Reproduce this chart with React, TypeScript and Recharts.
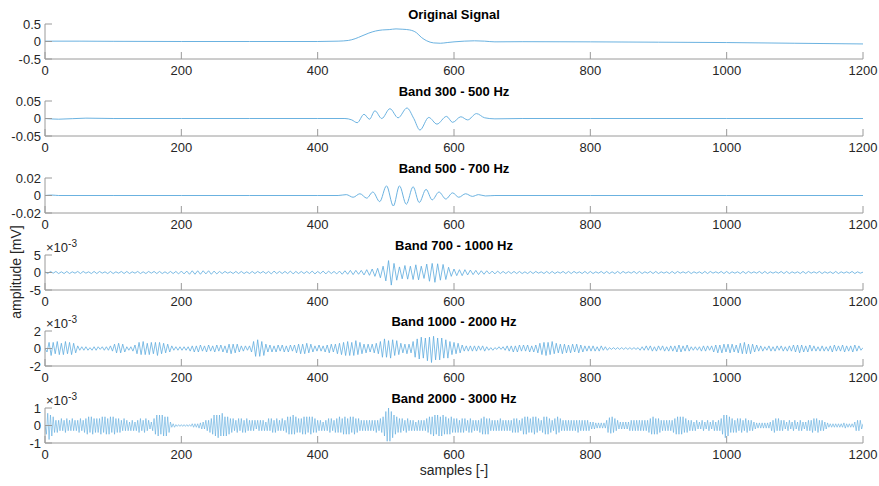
import { LineChart, Line, XAxis, YAxis } from 'recharts'

// shared x axis (samples)
const xTicks = [0, 200, 400, 600, 800, 1000, 1200]

// Original Signal [mV]
const origX = [0, 50, 100, 200, 300, 400, 430, 445, 455, 465, 475, 485, 495, 505, 515, 525, 535, 545, 552, 560, 570, 580, 590, 600, 615, 630, 645, 660, 700, 800, 900, 1000, 1100, 1200]
const origY = [0.01, 0.01, 0.005, 0, 0, 0, 0.01, 0.03, 0.08, 0.16, 0.24, 0.3, 0.33, 0.34, 0.36, 0.35, 0.33, 0.25, 0.12, 0.02, -0.04, -0.05, -0.03, -0.01, 0.01, 0.02, 0.01, -0.01, -0.005, -0.01, -0.02, -0.03, -0.05, -0.07]

// Band 300 - 500 Hz [mV]
const band300X = [0, 20, 60, 100, 200, 300, 400, 440, 450, 458, 468, 476, 484, 494, 506, 518, 531, 541, 550, 563, 575, 589, 598, 610, 620, 633, 645, 660, 700, 800, 1000, 1200]
const band300Y = [0, -0.002, 0.001, 0, 0, 0, 0, 0, -0.004, -0.012, 0.012, -0.002, 0.022, 0, 0.028, 0.002, 0.03, 0, -0.033, 0.003, -0.016, 0.006, -0.011, 0.005, -0.004, 0.014, 0.002, -0.001, 0, 0, 0, 0]

// Band 500 - 700 Hz [mV]
const band500X = [0, 10, 20, 100, 200, 300, 400, 430, 442, 452, 462, 472, 481, 491, 501, 511, 520, 530, 540, 549, 559, 568, 578, 588, 598, 607, 617, 627, 636, 646, 660, 800, 1000, 1200]
const band500Y = [0, 0.0005, 0, 0, 0, 0, 0, 0, 0.001, -0.002, 0.002, -0.003, 0.004, -0.007, 0.011, -0.012, 0.011, -0.01, 0.01, -0.008, 0.007, -0.005, 0.004, -0.004, 0.003, -0.002, 0.002, -0.001, 0.001, -0.0005, 0, 0, 0, 0]

// Band 700 - 1000 Hz [x10^-3 mV], one value every 4 samples
const band700Step = 4
const band700 = [
  0.2, -0.3, 0.3, -0.2, 0.3, -0.3, 0.2, -0.3, 0.3, -0.3, 0.2, -0.2, 0.3, -0.3, 0.3, -0.2, 0.2, -0.3, 0.3, -0.3,
  0.3, -0.2, 0.2, -0.3, 0.3, -0.3, 0.2, -0.2, 0.3, -0.3, 0.3, -0.3, 0.2, -0.2, 0.3, -0.3, 0.2, -0.3, 0.3, -0.2,
  0.3, -0.3, 0.3, -0.3, 0.2, -0.3, 0.3, -0.3, 0.3, -0.4, 0.4, -0.4, 0.4, -0.5, 0.5, -0.5, 0.5, -0.5, 0.5, -0.4,
  0.5, -0.5, 0.4, -0.4, 0.3, -0.3, 0.3, -0.2, 0.2, -0.3, 0.3, -0.3, 0.3, -0.3, 0.2, -0.3, 0.3, -0.3, 0.3, -0.2,
  0.3, -0.3, 0.3, -0.4, 0.4, -0.3, 0.3, -0.3, 0.3, -0.3, 0.4, -0.4, 0.3, -0.3, 0.3, -0.3, 0.3, -0.3, 0.4, -0.4,
  0.3, -0.3, 0.4, -0.4, 0.4, -0.3, 0.3, -0.4, 0.4, -0.5, 0.5, -0.5, 0.6, -0.6, 0.6, -0.5, 0.6, -0.7, 0.8, -0.8,
  1.0, -1.1, 1.2, -1.5, 1.8, -2.4, 3.4, -3.6, 2.6, -2.2, 1.6, -1.8, 2.0, -1.9, 1.8, -2.0, 2.2, -2.1, 1.8, -1.7,
  2.4, -2.5, 2.6, -2.8, 2.5, -2.2, 2.3, -2.0, 1.5, -1.1, 1.0, -0.9, 0.8, -0.9, 0.8, -0.7, 0.7, -0.6, 0.6, -0.6,
  0.5, -0.5, 0.5, -0.4, 0.4, -0.4, 0.4, -0.3, 0.3, -0.3, 0.3, -0.3, 0.3, -0.3, 0.3, -0.3, 0.2, -0.3, 0.3, -0.3,
  0.3, -0.2, 0.2, -0.3, 0.3, -0.3, 0.3, -0.3, 0.2, -0.2, 0.3, -0.3, 0.3, -0.3, 0.3, -0.2, 0.2, -0.3, 0.3, -0.3,
  0.3, -0.3, 0.2, -0.2, 0.3, -0.3, 0.3, -0.3, 0.2, -0.3, 0.3, -0.3, 0.3, -0.2, 0.2, -0.2, 0.3, -0.3, 0.3, -0.3,
  0.2, -0.2, 0.3, -0.3, 0.3, -0.3, 0.2, -0.2, 0.2, -0.3, 0.3, -0.3, 0.3, -0.2, 0.2, -0.2, 0.3, -0.3, 0.2, -0.2,
  0.2, -0.3, 0.3, -0.3, 0.3, -0.2, 0.2, -0.2, 0.3, -0.3, 0.3, -0.3, 0.2, -0.2, 0.2, -0.3, 0.3, -0.3, 0.3, -0.2,
  0.2, -0.2, 0.3, -0.3, 0.3, -0.3, 0.2, -0.2, 0.2, -0.2, 0.3, -0.3, 0.3, -0.3, 0.2, -0.2, 0.2, -0.3, 0.3, -0.3,
  0.3, -0.2, 0.2, -0.2, 0.3, -0.3, 0.2, -0.2, 0.2, -0.3, 0.3, -0.3, 0.2, -0.2, 0.2, -0.2, 0.3, -0.3, 0.2, -0.2,
  0.1,
]

// Band 1000 - 2000 Hz [x10^-3 mV], one value every 3 samples
const band1000Step = 3
const band1000 = [
  0, -0.4, 0.7, -0.8, 0.7, -0.6, 0.8, -0.7, 0.6, -0.7, 0.8, -0.6, 0.7, -0.7, 0.6, -0.5, 0.3, -0.2, 0.2, -0.2,
  0.2, -0.2, 0.1, -0.2, 0.2, -0.2, 0.2, -0.1, 0.2, -0.2, 0.2, -0.2, 0.3, -0.3, 0.5, -0.5, 0.6, -0.5, 0.5, -0.4,
  0.2, -0.2, 0.2, -0.3, 0.4, -0.6, 0.7, -0.7, 0.8, -0.7, 0.6, -0.7, 0.7, -0.6, 0.7, -0.8, 0.7, -0.6, 0.6, -0.5,
  0.5, -0.4, 0.3, -0.2, 0.2, -0.2, 0.2, -0.2, 0.2, -0.2, 0.2, -0.3, 0.3, -0.4, 0.3, -0.4, 0.4, -0.3, 0.3, -0.4,
  0.4, -0.3, 0.3, -0.4, 0.4, -0.3, 0.4, -0.4, 0.3, -0.5, 0.5, -0.6, 0.5, -0.5, 0.5, -0.4, 0.3, -0.3, 0.3, -0.2,
  0.3, -0.4, 0.8, -0.9, 1.0, -0.9, 0.8, -0.8, 0.5, -0.4, 0.4, -0.4, 0.3, -0.4, 0.4, -0.3, 0.4, -0.4, 0.3, -0.4,
  0.4, -0.3, 0.4, -0.5, 0.5, -0.6, 0.5, -0.6, 0.6, -0.5, 0.5, -0.4, 0.3, -0.3, 0.4, -0.3, 0.3, -0.4, 0.4, -0.5,
  0.5, -0.4, 0.5, -0.6, 0.6, -0.7, 0.7, -0.8, 0.8, -0.8, 0.7, -0.8, 0.9, -0.7, 0.7, -0.6, 0.5, -0.5, 0.5, -0.4,
  0.5, -0.5, 0.6, -0.6, 0.8, -1.0, 1.1, -1.0, 0.9, -1.1, 1.0, -0.8, 0.9, -0.7, 0.6, -0.5, 0.5, -0.6, 0.5, -0.5,
  0.8, -1.0, 1.1, -1.2, 1.3, -1.1, 1.2, -1.4, 1.3, -1.6, 1.4, -1.3, 1.2, -1.3, 1.2, -1.1, 1.0, -1.1, 0.8, -0.7,
  0.7, -0.6, 0.6, -0.5, 0.4, -0.3, 0.3, -0.3, 0.3, -0.3, 0.3, -0.3, 0.3, -0.2, 0.3, -0.3, 0.2, -0.2, 0.1, -0.2,
  0.1, -0.1, 0.2, -0.1, 0.2, -0.2, 0.3, -0.3, 0.3, -0.4, 0.3, -0.4, 0.4, -0.3, 0.4, -0.3, 0.4, -0.4, 0.3, -0.4,
  0.4, -0.5, 0.6, -0.7, 0.7, -0.8, 0.7, -0.7, 0.8, -0.6, 0.6, -0.5, 0.5, -0.6, 0.5, -0.5, 0.4, -0.5, 0.5, -0.4,
  0.5, -0.5, 0.4, -0.4, 0.3, -0.3, 0.3, -0.3, 0.3, -0.3, 0.2, -0.3, 0.3, -0.2, 0.2, -0.2, 0.1, -0.1, 0.1, -0.1,
  0.1, -0.1, 0.1, -0.1, 0.1, -0.1, 0.1, -0.1, 0.1, -0.1, 0.1, -0.2, 0.2, -0.2, 0.3, -0.2, 0.3, -0.3, 0.2, -0.3,
  0.3, -0.2, 0.3, -0.3, 0.2, -0.3, 0.3, -0.3, 0.3, -0.4, 0.4, -0.4, 0.3, -0.3, 0.4, -0.3, 0.2, -0.2, 0.2, -0.2,
  0.2, -0.3, 0.3, -0.3, 0.3, -0.2, 0.3, -0.4, 0.4, -0.5, 0.4, -0.5, 0.5, -0.4, 0.5, -0.5, 0.5, -0.4, 0.4, -0.5,
  0.6, -0.6, 0.7, -0.6, 0.5, -0.6, 0.5, -0.4, 0.4, -0.3, 0.3, -0.3, 0.2, -0.2, 0.3, -0.3, 0.2, -0.3, 0.3, -0.2,
  0.3, -0.3, 0.2, -0.3, 0.3, -0.3, 0.4, -0.4, 0.4, -0.5, 0.4, -0.4, 0.3, -0.4, 0.4, -0.3, 0.3, -0.3, 0.2, -0.3,
  0.3, -0.3, 0.2, -0.3, 0.3, -0.4, 0.4, -0.3, 0.3, -0.3, 0.4, -0.4, 0.3, -0.3, 0.3, -0.4, 0.4, -0.3, 0.3, -0.2,
  0.1,
]

// Band 2000 - 3000 Hz [x10^-3 mV], one value every 2 samples
const band2000Step = 2
const band2000 = [
  0, -0.5, 0.7, -0.8, 0.6, -0.6, 0.5, -0.4, 0.3, -0.4, 0.3, -0.3, 0.4, -0.3, 0.3, -0.4, 0.4, -0.3, 0.3, -0.3,
  0.4, -0.3, 0.3, -0.3, 0.3, -0.4, 0.4, -0.3, 0.3, -0.4, 0.4, -0.5, 0.5, -0.4, 0.5, -0.5, 0.4, -0.4, 0.4, -0.4,
  0.4, -0.5, 0.5, -0.4, 0.5, -0.5, 0.4, -0.5, 0.5, -0.4, 0.5, -0.5, 0.4, -0.4, 0.4, -0.4, 0.3, -0.3, 0.4, -0.3,
  0.3, -0.3, 0.2, -0.3, 0.3, -0.3, 0.2, -0.3, 0.3, -0.4, 0.4, -0.3, 0.3, -0.4, 0.4, -0.3, 0.3, -0.2, 0.2, -0.3,
  0.4, -0.5, 0.6, -0.6, 0.6, -0.5, 0.6, -0.6, 0.5, -0.6, 0.5, -0.4, 0.2, -0.1, 0.1, -0.1, 0.05, -0.05, 0.05, -0.05,
  0.05, -0.05, 0.05, -0.05, 0.05, -0.05, 0.05, -0.05, 0.1, -0.1, 0.1, -0.1, 0.1, -0.15, 0.15, -0.2, 0.2, -0.2, 0.3, -0.3,
  0.3, -0.4, 0.4, -0.5, 0.6, -0.6, 0.6, -0.7, 0.6, -0.6, 0.7, -0.6, 0.5, -0.6, 0.5, -0.5, 0.4, -0.4, 0.4, -0.3,
  0.3, -0.4, 0.4, -0.3, 0.4, -0.4, 0.3, -0.4, 0.4, -0.3, 0.3, -0.3, 0.3, -0.3, 0.3, -0.2, 0.3, -0.3, 0.3, -0.3,
  0.3, -0.3, 0.2, -0.3, 0.4, -0.3, 0.4, -0.4, 0.3, -0.4, 0.4, -0.3, 0.3, -0.3, 0.4, -0.3, 0.3, -0.4, 0.5, -0.5,
  0.5, -0.5, 0.6, -0.5, 0.5, -0.4, 0.4, -0.4, 0.4, -0.5, 0.5, -0.5, 0.5, -0.4, 0.5, -0.5, 0.5, -0.4, 0.4, -0.4,
  0.3, -0.3, 0.3, -0.3, 0.2, -0.3, 0.3, -0.3, 0.4, -0.4, 0.4, -0.3, 0.3, -0.4, 0.4, -0.4, 0.5, -0.4, 0.4, -0.5,
  0.5, -0.5, 0.4, -0.5, 0.5, -0.4, 0.5, -0.5, 0.4, -0.4, 0.4, -0.3, 0.3, -0.3, 0.3, -0.3, 0.3, -0.3, 0.3, -0.3,
  0.3, -0.3, 0.3, -0.4, 0.3, -0.3, 0.4, -0.4, 0.5, -0.6, 0.8, -0.9, 1.0, -0.9, 0.8, -0.7, 0.6, -0.5, 0.5, -0.4,
  0.4, -0.4, 0.4, -0.3, 0.3, -0.4, 0.4, -0.3, 0.3, -0.3, 0.3, -0.3, 0.2, -0.3, 0.3, -0.3, 0.3, -0.3, 0.3, -0.3,
  0.4, -0.4, 0.5, -0.5, 0.5, -0.6, 0.6, -0.5, 0.6, -0.6, 0.5, -0.6, 0.6, -0.5, 0.5, -0.5, 0.4, -0.5, 0.5, -0.4,
  0.4, -0.4, 0.4, -0.4, 0.3, -0.4, 0.4, -0.4, 0.4, -0.3, 0.3, -0.4, 0.4, -0.4, 0.3, -0.3, 0.3, -0.3, 0.3, -0.4,
  0.4, -0.5, 0.5, -0.5, 0.4, -0.5, 0.4, -0.3, 0.3, -0.3, 0.3, -0.3, 0.3, -0.3, 0.4, -0.3, 0.3, -0.3, 0.3, -0.3,
  0.3, -0.3, 0.3, -0.4, 0.4, -0.4, 0.4, -0.4, 0.3, -0.3, 0.4, -0.5, 0.5, -0.5, 0.5, -0.4, 0.4, -0.4, 0.5, -0.5,
  0.5, -0.4, 0.4, -0.3, 0.3, -0.4, 0.5, -0.5, 0.5, -0.5, 0.4, -0.4, 0.3, -0.3, 0.4, -0.5, 0.5, -0.4, 0.4, -0.3,
  0.3, -0.3, 0.3, -0.3, 0.3, -0.3, 0.3, -0.3, 0.3, -0.3, 0.3, -0.4, 0.3, -0.3, 0.3, -0.3, 0.3, -0.3, 0.3, -0.3,
  0.2, -0.2, 0.2, -0.2, 0.15, -0.15, 0.15, -0.15, 0.15, -0.15, 0.15, -0.15, 0.3, -0.4, 0.45, -0.45, 0.5, -0.4, 0.4, -0.3,
  0.3, -0.2, 0.2, -0.2, 0.2, -0.2, 0.2, -0.2, 0.2, -0.3, 0.3, -0.3, 0.3, -0.3, 0.3, -0.3, 0.3, -0.3, 0.3, -0.3,
  0.3, -0.3, 0.3, -0.4, 0.4, -0.5, 0.5, -0.5, 0.4, -0.5, 0.4, -0.4, 0.3, -0.3, 0.3, -0.3, 0.3, -0.3, 0.3, -0.3,
  0.3, -0.4, 0.4, -0.5, 0.5, -0.5, 0.5, -0.5, 0.5, -0.4, 0.4, -0.4, 0.3, -0.3, 0.3, -0.3, 0.2, -0.3, 0.3, -0.2,
  0.2, -0.2, 0.3, -0.3, 0.2, -0.2, 0.3, -0.3, 0.2, -0.2, 0.3, -0.3, 0.2, -0.3, 0.3, -0.3, 0.4, -0.5, 0.6, -0.7,
  0.6, -0.6, 0.5, -0.4, 0.4, -0.4, 0.3, -0.4, 0.4, -0.3, 0.4, -0.4, 0.3, -0.3, 0.4, -0.4, 0.3, -0.3, 0.3, -0.3,
  0.2, -0.2, 0.15, -0.15, 0.15, -0.15, 0.15, -0.15, 0.15, -0.15, 0.15, -0.15, 0.2, -0.3, 0.3, -0.4, 0.4, -0.3, 0.4, -0.3,
  0.3, -0.3, 0.3, -0.2, 0.2, -0.3, 0.3, -0.2, 0.2, -0.3, 0.3, -0.2, 0.2, -0.3, 0.3, -0.3, 0.2, -0.2, 0.2, -0.3,
  0.3, -0.3, 0.3, -0.4, 0.4, -0.3, 0.4, -0.4, 0.3, -0.3, 0.3, -0.3, 0.2, -0.2, 0.15, -0.1, 0.1, -0.1, 0.1, -0.1,
  0.1, -0.1, 0.1, -0.1, 0.1, -0.1, 0.15, -0.15, 0.1, -0.1, 0.1, -0.1, 0.1, -0.1, 0.2, -0.3, 0.3, -0.3, 0.3, -0.2,
  0.1,
]

const titles = ['Original Signal', 'Band 300 - 500 Hz', 'Band 500 - 700 Hz', 'Band 700 - 1000 Hz', 'Band 1000 - 2000 Hz', 'Band 2000 - 3000 Hz']
const yLimits = [0.5, 0.05, 0.02, 5, 2, 1]
const scaled = [false, false, false, true, true, true]

const pairs = (xs: number[], ys: number[]) => xs.map((x, i) => ({ x, y: ys[i] }))
const stepped = (ys: number[], step: number) => ys.map((y, i) => ({ x: i * step, y }))

const series = [
  pairs(origX, origY),
  pairs(band300X, band300Y),
  pairs(band500X, band500Y),
  stepped(band700, band700Step),
  stepped(band1000, band1000Step),
  stepped(band2000, band2000Step),
]
const smooth = [true, true, true, false, false, false]
const widths = [0.9, 0.9, 0.9, 0.8, 0.75, 0.6]

// layout
const W = 879
const H = 486
const PLOT_LEFT = 45
const PLOT_RIGHT = 863
const PLOT_H = 35
const TOPS = [24, 101, 178, 255, 331, 408]
const AXIS = '#9a9a9a'
const TEXT = '#262626'
const LINE = '#5aa9dd'
const FONT = '"Liberation Sans", Arial, Helvetica, sans-serif'

function Panel({ idx }: { idx: number }) {
  const lim = yLimits[idx]
  const top = TOPS[idx]
  return (
    <div style={{ position: 'absolute', left: 0, top: top - 20 }}>
      <LineChart
        width={W}
        height={20 + PLOT_H + 20}
        data={series[idx]}
        margin={{ top: 20, right: W - PLOT_RIGHT, bottom: 0, left: 0 }}
      >
        <XAxis
          dataKey="x"
          type="number"
          domain={[0, 1200]}
          ticks={xTicks}
          interval={0}
          allowDataOverflow
          height={20}
          stroke={AXIS}
          tickSize={-7}
          tickMargin={14}
          tick={{ fill: TEXT, fontSize: 13 }}
        />
        <XAxis
          xAxisId="top"
          orientation="top"
          type="number"
          domain={[0, 1200]}
          ticks={xTicks}
          interval={0}
          allowDataOverflow
          height={0}
          stroke={AXIS}
          tickSize={-7}
          tick={false}
        />
        <YAxis
          type="number"
          domain={[-lim, lim]}
          ticks={[-lim, 0, lim]}
          interval={0}
          allowDataOverflow
          width={PLOT_LEFT}
          stroke={AXIS}
          tickSize={-7}
          tickMargin={11}
          tick={{ fill: TEXT, fontSize: 13 }}
        />
        <YAxis
          yAxisId="right"
          orientation="right"
          type="number"
          domain={[-lim, lim]}
          ticks={[-lim, 0, lim]}
          interval={0}
          allowDataOverflow
          width={0}
          stroke={AXIS}
          tickSize={-7}
          tick={false}
        />
        <Line
          dataKey="y"
          type={smooth[idx] ? 'monotone' : 'linear'}
          stroke={LINE}
          strokeWidth={widths[idx]}
          dot={false}
          isAnimationActive={false}
        />
      </LineChart>
    </div>
  )
}

export default function App() {
  const midX = (PLOT_LEFT + PLOT_RIGHT) / 2
  return (
    <div style={{ position: 'absolute', left: 0, top: 0, width: W, height: H, background: '#fff', fontFamily: FONT }}>
      {titles.map((_, i) => (
        <Panel key={i} idx={i} />
      ))}
      <svg width={W} height={H} style={{ position: 'absolute', left: 0, top: 0, pointerEvents: 'none' }}>
        {titles.map((t, i) => (
          <text key={t} x={midX} y={TOPS[i] - 5} textAnchor="middle" fontSize={13} fontWeight="bold" fill="#000" fontFamily={FONT}>
            {t}
          </text>
        ))}
        {titles.map((t, i) =>
          scaled[i] ? (
            <text key={'e' + t} x={PLOT_LEFT + 1} y={TOPS[i] - 3} fontSize={13} fill={TEXT} fontFamily={FONT}>
              ×10
              <tspan dy={-5} fontSize={10}>-3</tspan>
            </text>
          ) : null,
        )}
        <text x={21} y={272} transform="rotate(-90, 21, 272)" textAnchor="middle" fontSize={14} fill={TEXT} fontFamily={FONT}>
          amplitude [mV]
        </text>
        <text x={midX} y={475} textAnchor="middle" fontSize={14} fill={TEXT} fontFamily={FONT}>
          samples [-]
        </text>
      </svg>
    </div>
  )
}
